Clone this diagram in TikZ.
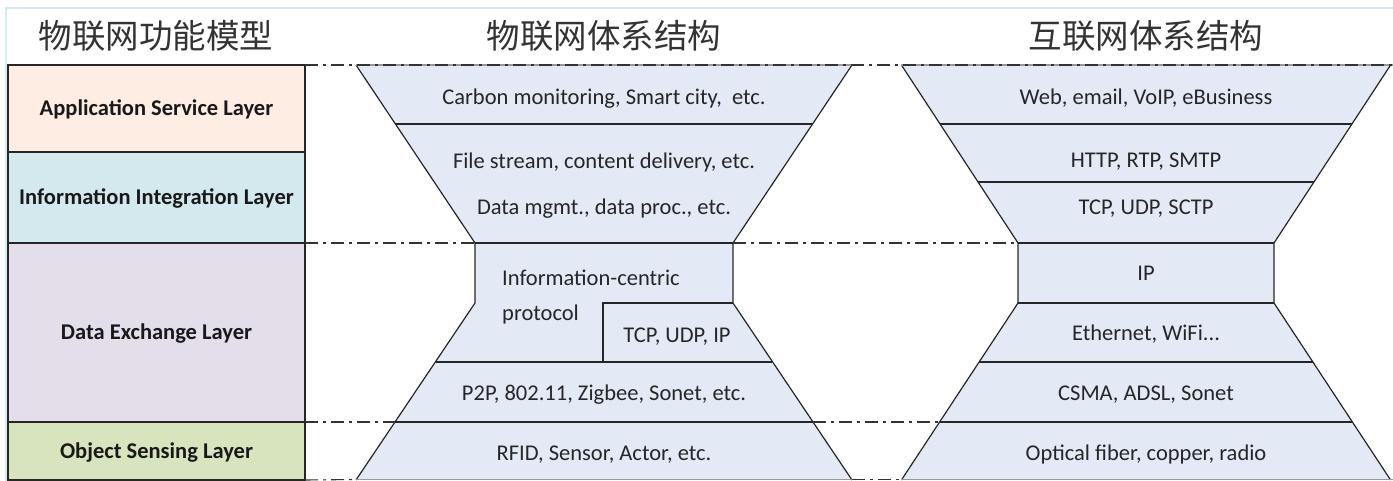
\documentclass[tikz,border=0pt]{standalone}
\usepackage{fontspec}
\setmainfont{Carlito}
\newfontfamily\cjk{Noto Sans CJK SC}
\usepackage{tikz}
\usetikzlibrary{positioning}
\usepackage{xcolor}
\definecolor{appcol}{HTML}{FDEDE3}
\definecolor{infocol}{HTML}{D3E9EE}
\definecolor{datacol}{HTML}{E4DEEB}
\definecolor{objcol}{HTML}{D8E4BD}
\definecolor{glasscol}{HTML}{E3EAF5}
\definecolor{framecol}{HTML}{D6ECF1}

\begin{document}
\begin{tikzpicture} [
  x = 1pt, y = -1pt,
  layerbox/.style = { draw = black!85, line width = 1.3pt, outer sep = 0, inner sep = 0,
                      minimum width = 297pt, text height = 14.5pt, text depth = 0pt,
                      font = \fontsize{22.5}{26}\selectfont\bfseries, text = black!90 },
  edge/.style = { draw = black!85, line width = 1.2pt },
  rim/.style = { draw = black!40, line width = 1.2pt },
  cell/.style = { inner sep = 0, text height = 14.5pt, text depth = 0pt,
                  font = \fontsize{22.5}{26}\selectfont, text = black!85 },
  head/.style = { inner sep = 0, font = \cjk\fontsize{33.5}{36}\selectfont, text = black!80 },
  sepline/.style = { draw = black!80, line width = 1.1pt,
                     dash pattern = on 13pt off 5pt on 3pt off 5pt }
  ]
  \useasboundingbox (0,0) rectangle (1393,481);
  \draw[framecol, line width = 2.5pt] (6,481) -- (6,8) -- (1393,8);

  % headings
  \node[head] (title-func) at (156,36) {物联网功能模型};
  \node[head] (title-iot)  at (604,36) {物联网体系结构};
  \node[head] (title-inet) at (1146,36) {互联网体系结构};

  % functional layers
  \node[layerbox, fill = appcol, minimum height = 87pt, anchor = north west] (app) at (8,65) {Application Service Layer};
  \node[layerbox, fill = infocol, minimum height = 91pt, below = 0pt of app] (info) {Information Integration Layer};
  \node[layerbox, fill = datacol, minimum height = 179pt, below = 0pt of info] (data) {Data Exchange Layer};
  \node[layerbox, fill = objcol, minimum height = 58pt, below = 0pt of data] (obj) {Object Sensing Layer};

  % IoT hourglass
  \fill[glasscol] (356,65) -- (852,65) -- (733,243) -- (733,303) -- (852,480)
    -- (356,480) -- (475,303) -- (475,243) -- cycle;
  \draw[edge] (356,65) -- (475,243) -- (475,303) -- (356,480);
  \draw[edge] (852,65) -- (733,243) -- (733,303) -- (852,480);
  \draw[rim] (356,65) -- (852,65);
  \draw[rim] (356,479.5) -- (852,479.5);
  \draw[edge] (395.4,124) -- (812.6,124);
  \draw[edge] (475,243) -- (733,243);
  \draw[edge] (603,362) -- (603,303) -- (733,303);
  \draw[edge] (435.6,362) -- (772.4,362);
  \draw[edge] (395.4,422) -- (812.6,422);

  \node[cell] (carbon) at (604,97) {Carbon monitoring, Smart city, \ etc.};
  \node[cell] (stream) at (604,161) {File stream, content delivery, etc.};
  \node[cell] (mgmt)   at (604,207) {Data mgmt., data proc., etc.};
  \node[cell, anchor = west] (icn)   at (502,278) {Information-centric};
  \node[cell, anchor = west] (proto) at (502,313) {protocol};
  \node[cell] (tcpip)  at (677,335) {TCP, UDP, IP};
  \node[cell] (p2p)    at (604,393) {P2P, 802.11, Zigbee, Sonet, etc.};
  \node[cell] (rfid)   at (604,453) {RFID, Sensor, Actor, etc.};

  % Internet hourglass
  \fill[glasscol] (901.4,65) -- (1390.6,65) -- (1274,243) -- (1274,303) -- (1390.6,480)
    -- (901.4,480) -- (1018,303) -- (1018,243) -- cycle;
  \draw[edge] (901.4,65) -- (1018,243) -- (1018,303) -- (901.4,480);
  \draw[edge] (1390.6,65) -- (1274,243) -- (1274,303) -- (1390.6,480);
  \draw[rim] (901.4,65) -- (1393,65);
  \draw[rim] (901.4,479.5) -- (1393,479.5);
  \draw[edge] (940,124) -- (1352,124);
  \draw[edge] (978,182) -- (1314,182);
  \draw[edge] (1018,243) -- (1274,243);
  \draw[edge] (1018,303) -- (1274,303);
  \draw[edge] (979.4,362) -- (1312.6,362);
  \draw[edge] (940,422) -- (1352,422);

  \node[cell] (web)   at (1146,97)  {Web, email, VoIP, eBusiness};
  \node[cell] (http)  at (1146,160) {HTTP, RTP, SMTP};
  \node[cell] (tcp)   at (1146,207) {TCP, UDP, SCTP};
  \node[cell] (ip)    at (1146,273) {IP};
  \node[cell] (eth)   at (1146,333) {Ethernet, WiFi...};
  \node[cell] (csma)  at (1146,393) {CSMA, ADSL, Sonet};
  \node[cell] (fiber) at (1146,453) {Optical fiber, copper, radio};

  % layer boundaries
  \draw[sepline] (app.north east) -- (1393,65);
  \draw[sepline] (data.north east) -- (475,243);
  \draw[sepline] (733,243) -- (1018,243);
  \draw[sepline] (obj.north east) -- (395.4,422);
  \draw[sepline] (812.6,422) -- (940,422);
  \draw[sepline] (obj.south east) -- (356,479.5);
  \draw[sepline] (852,479.5) -- (901.4,479.5);
\end{tikzpicture}
\end{document}
